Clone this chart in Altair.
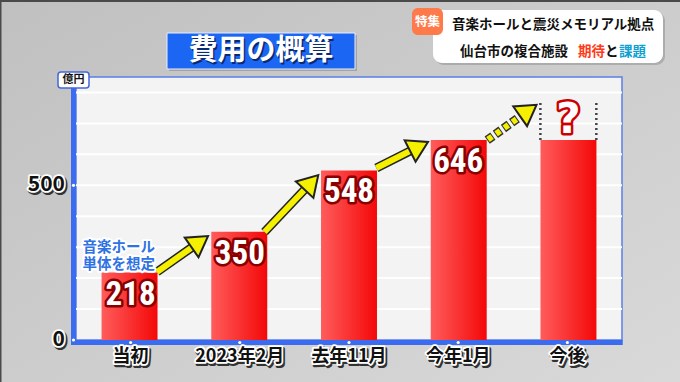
import altair as alt
import pandas as pd

# ---------------- data ----------------
categories = ["当初", "2023年2月", "去年11月", "今年1月", "今後"]
values = [218, 350, 548, 646, 646]
value_labels = ["218", "350", "548", "646", ""]
y_tick_values = [0, 500]
y_tick_labels = ["0", "500"]
grid_values = [100, 200, 300, 400, 500, 600, 700, 800]

# arrows (x in category-index units, y in 億円)
arrow_x0 = [0.25, 1.23, 2.25, 3.26]
arrow_y0 = [220, 349, 556, 646]
arrow_x1 = [0.715, 1.72, 2.72, 3.71]
arrow_y1 = [336, 533, 640, 760]
arrow_angle = [55, 43, 63, 55]
arrow_dotted = [False, False, False, True]

# future bar: dotted edges and question mark
future_edges_x = [3.745, 4.255]
future_edge_top = 766
question_x = [4.0]
question_y = [711]

annot_text = ["音楽ホール\n単体を想定"]
annot_x = [-0.1]
annot_y = [298]

JP = "Noto Sans CJK JP"
NUM = "Roboto Condensed, Noto Sans Condensed, Liberation Sans Narrow, Open Sans Condensed, DejaVu Sans Condensed, sans-serif"

bars_df = pd.DataFrame({"cat": categories, "val": values, "lab": value_labels})
lab_df = bars_df[bars_df["lab"] != ""]
yt_df = pd.DataFrame({"val": y_tick_values, "t": y_tick_labels})
grid_df = pd.DataFrame({"val": grid_values})
arr_df = pd.DataFrame({"x0": arrow_x0, "val": arrow_y0, "x1": arrow_x1, "y1": arrow_y1,
                       "ang": arrow_angle, "dot": arrow_dotted})
arr_df["xs"] = arr_df["x0"] + 0.8 * (arr_df["x1"] - arr_df["x0"])
arr_df["ys"] = arr_df["val"] + 0.8 * (arr_df["y1"] - arr_df["val"])
solid_df = arr_df[~arr_df["dot"]]
dot_df = arr_df[arr_df["dot"]]
edge_df = pd.DataFrame({"x": future_edges_x, "val": [values[4]] * 2, "y1": [future_edge_top] * 2})
q_df = pd.DataFrame({"x": question_x, "val": question_y, "t": ["?"]})
ann_df = pd.DataFrame({"x": annot_x, "val": annot_y, "t": annot_text})

W, H = 546, 263
PL, PT = 76, 77
ysc = alt.Scale(domain=[0, 850], nice=False)
xband = alt.Scale(domain=categories, paddingInner=0.49, paddingOuter=0.233)
xnum = alt.Scale(domain=[-0.4886, 4.489], nice=False, zero=False)

BLUE = "#3b6cf0"
Y = alt.Y("val:Q", scale=ysc, title=None, axis=None)
XB = alt.X("cat:N", sort=categories, scale=xband, axis=None)

one = pd.DataFrame({"a": [0]})


def box(x, x2, y, y2, **kw):
    return alt.Chart(one).mark_rect(**kw).encode(
        x=alt.value(x), x2=alt.value(x2), y=alt.value(y), y2=alt.value(y2))


def txt(s, x, y, **kw):
    return alt.Chart(pd.DataFrame({"t": [s]})).mark_text(baseline="middle", **kw).encode(
        x=alt.value(x), y=alt.value(y), text="t:N")


# ---------- backgrounds and frame ----------
bg_grad = alt.Gradient(gradient="linear",
                       stops=[alt.GradientStop(color="#c0c0c0", offset=0),
                              alt.GradientStop(color="#dadada", offset=1)],
                       x1=0, x2=1, y1=0, y2=1)
bg = box(-PL + 1.5, 700 - PL, -PT + 2, 400 - PT, color=bg_grad)
plot_bg = box(0, W, 0, H, color="#f3f3f3", stroke="#5b7fe8", strokeWidth=1.5)
grid = alt.Chart(grid_df).mark_rule(color="#ffffff", strokeWidth=2).encode(
    x=alt.value(0), x2=alt.value(W), y=Y)
frame_left = alt.Chart(one).mark_rule(color=BLUE, strokeWidth=5).encode(
    x=alt.value(-2.5), y=alt.value(0), y2=alt.value(H + 5))
frame_bottom = alt.Chart(one).mark_rule(color=BLUE, strokeWidth=5).encode(
    x=alt.value(-5), x2=alt.value(W + 0.75), y=alt.value(H + 2.5))

bar_grad = alt.Gradient(gradient="linear",
                        stops=[alt.GradientStop(color="#ff5c5c", offset=0),
                               alt.GradientStop(color="#f40808", offset=1)],
                        x1=0, x2=1, y1=0, y2=0)

bars = alt.Chart(bars_df).mark_bar(color=bar_grad).encode(x=XB, y=Y)

lab_stroke = alt.Chart(lab_df).mark_text(font=NUM, fontSize=33, fontWeight="bold",
                                         baseline="middle", dy=22, fill="#8a0000",
                                         stroke="#8a0000", strokeWidth=5, strokeJoin="round").encode(
    x=XB, y=Y, text="lab:N")
lab_fill = alt.Chart(lab_df).mark_text(font=NUM, fontSize=33, fontWeight="bold",
                                       baseline="middle", dy=22, fill="#ffffff").encode(
    x=XB, y=Y, text="lab:N")

# axis tick dots
xdots = alt.Chart(bars_df).mark_point(filled=True, size=10, color="#ffffff", opacity=1).encode(
    x=XB, y=alt.value(H + 2.5))
ydots = alt.Chart(yt_df).mark_point(filled=True, size=10, color="#ffffff", opacity=1).encode(
    x=alt.value(-2.5), y=Y)

XL_Y = H + 17
xl_shadow = alt.Chart(bars_df).mark_text(font=JP, fontSize=18, fontWeight="bold", baseline="middle",
                                         dx=1.5, dy=1.5, fill="#333333", stroke="#333333",
                                         strokeWidth=4, strokeJoin="round").encode(
    x=XB, y=alt.value(XL_Y), text="cat:N")
xl_stroke = alt.Chart(bars_df).mark_text(font=JP, fontSize=18, fontWeight="bold", baseline="middle",
                                         fill="#ffffff", stroke="#ffffff", strokeWidth=3.5,
                                         strokeJoin="round").encode(
    x=XB, y=alt.value(XL_Y), text="cat:N")
xl_fill = alt.Chart(bars_df).mark_text(font=JP, fontSize=18, fontWeight="bold", baseline="middle",
                                       fill="#111111").encode(
    x=XB, y=alt.value(XL_Y), text="cat:N")

yl_shadow = alt.Chart(yt_df).mark_text(font=JP, fontSize=21, fontWeight="bold", baseline="middle",
                                       align="right", dx=1.5, dy=1.5, fill="#333333", stroke="#333333",
                                       strokeWidth=4, strokeJoin="round").encode(
    x=alt.value(-11), y=Y, text="t:N")
yl_stroke = alt.Chart(yt_df).mark_text(font=JP, fontSize=21, fontWeight="bold", baseline="middle",
                                       align="right", fill="#ffffff", stroke="#ffffff", strokeWidth=3.5,
                                       strokeJoin="round").encode(
    x=alt.value(-11), y=Y, text="t:N")
yl_fill = alt.Chart(yt_df).mark_text(font=JP, fontSize=21, fontWeight="bold", baseline="middle",
                                     align="right", fill="#111111").encode(
    x=alt.value(-11), y=Y, text="t:N")


def xn(f):
    return alt.X(f"{f}:Q", scale=xnum, axis=None)


shaft_out = alt.Chart(solid_df).mark_rule(color="#222222", strokeWidth=9, strokeCap="butt").encode(
    x=xn("x0"), y=Y, x2="xs:Q", y2="ys:Q")
shaft_in = alt.Chart(solid_df).mark_rule(color="#f4f000", strokeWidth=6, strokeCap="butt").encode(
    x=xn("x0"), y=Y, x2="xs:Q", y2="ys:Q")
dot_out = alt.Chart(dot_df).mark_rule(color="#333333", strokeWidth=9, strokeCap="butt",
                                      strokeDash=[7, 3]).encode(
    x=xn("x0"), y=Y, x2="xs:Q", y2="ys:Q")
dot_in = alt.Chart(dot_df).mark_rule(color="#f4f000", strokeWidth=6, strokeCap="butt",
                                     strokeDash=[5, 5], strokeDashOffset=-1).encode(
    x=xn("x0"), y=Y, x2="xs:Q", y2="ys:Q")
heads = alt.Chart(arr_df).mark_point(shape="M0,0L0.6,1L-0.6,1Z", size=1600, filled=True,
                                     fill="#f4f000", stroke="#222222", strokeWidth=2,
                                     opacity=1).encode(
    x=xn("x1"), y=alt.Y("y1:Q", scale=ysc, axis=None, title=None),
    angle=alt.Angle("ang:Q", scale=None))

edges = alt.Chart(edge_df).mark_rule(color="#444444", strokeWidth=2.5, strokeDash=[2, 3]).encode(
    x=xn("x"), y=Y, y2="y1:Q")

q_stroke = alt.Chart(q_df).mark_text(font="DejaVu Sans", fontSize=42, fontWeight="bold",
                                     baseline="middle", fill="#ffffff", stroke="#cc0000",
                                     strokeWidth=5, strokeJoin="round").encode(
    x=xn("x"), y=Y, text="t:N")
q_fill = alt.Chart(q_df).mark_text(font="DejaVu Sans", fontSize=42, fontWeight="bold",
                                   baseline="middle", fill="#ffffff").encode(
    x=xn("x"), y=Y, text="t:N")

ann_stroke = alt.Chart(ann_df).mark_text(font=JP, fontSize=14.5, fontWeight="bold", baseline="middle",
                                         lineBreak="\n", lineHeight=17, fill="#ffffff",
                                         stroke="#ffffff", strokeWidth=4, strokeJoin="round").encode(
    x=xn("x"), y=Y, text="t:N")
ann_fill = alt.Chart(ann_df).mark_text(font=JP, fontSize=14.5, fontWeight="bold", baseline="middle",
                                       lineBreak="\n", lineHeight=17, fill="#2f72e4").encode(
    x=xn("x"), y=Y, text="t:N")

# ---------- header decorations (pixel positions relative to plot origin) ----------
title_shadow = box(93, 281, -42, -6, color="#8a8a8a", opacity=0.6)
title_box = box(91, 279, -44, -8, color="#1c66f4", stroke="#e8eefc", strokeWidth=1)
title_txt_sh = txt("費用の概算", 186.5, -24.5, font=JP, fontSize=29, fontWeight="bold", fill="#0a2a70")
title_txt = txt("費用の概算", 185, -26, font=JP, fontSize=29, fontWeight="bold", fill="#ffffff")

unit_box = box(-18, 13, -5, 11, color="#ffffff", stroke="#4466dd", strokeWidth=1.5, cornerRadius=3)
unit_txt = txt("億円", -2.5, 3, font=JP, fontSize=11, fontWeight="bold", fill="#111111")

panel_shadow = box(359, 589, -65, -12, color="#8c8c8c", opacity=0.5, cornerRadius=9)
panel = box(357, 587, -67, -14, color="#ffffff", cornerRadius=9)
tag = box(336, 367, -69, -42, color="#ff7a4a", cornerRadius=6)
tag_txt = txt("特集", 351.5, -55.5, font=JP, fontSize=12.5, fontWeight="bold", fill="#ffffff")
l1 = txt("音楽ホールと震災メモリアル拠点", 376, -52, align="left", font=JP, fontSize=13.5,
         fontWeight="bold", fill="#111111")
l2a = txt("仙台市の複合施設", 384, -25, align="left", font=JP, fontSize=13.5, fontWeight="bold", fill="#111111")
l2b = txt("期待", 502, -25, align="left", font=JP, fontSize=13.5, fontWeight="bold", fill="#ff3a1a")
l2c = txt("と", 529, -25, align="left", font=JP, fontSize=13.5, fontWeight="bold", fill="#111111")
l2d = txt("課題", 543, -25, align="left", font=JP, fontSize=13.5, fontWeight="bold", fill="#10a0d0")

chart = alt.layer(
    bg, plot_bg, grid,
    bars, lab_stroke, lab_fill,
    frame_left, frame_bottom, xdots, ydots,
    xl_shadow, xl_stroke, xl_fill, yl_shadow, yl_stroke, yl_fill,
    shaft_out, shaft_in, dot_out, dot_in, heads, edges, q_stroke, q_fill, ann_stroke, ann_fill,
    title_shadow, title_box, title_txt_sh, title_txt, unit_box, unit_txt,
    panel_shadow, panel, tag, tag_txt, l1, l2a, l2b, l2c, l2d,
).resolve_scale(x="independent").properties(
    width=W, height=H,
    autosize=alt.AutoSizeParams(type="none"),
    padding={"left": PL, "top": PT, "right": 680 - PL - W, "bottom": 382 - PT - H},
    background="#4a4a4a",
).configure_view(fill="#f3f3f3", stroke=None)

chart.save("out.html", embed_options={"renderer": "svg", "actions": False})
